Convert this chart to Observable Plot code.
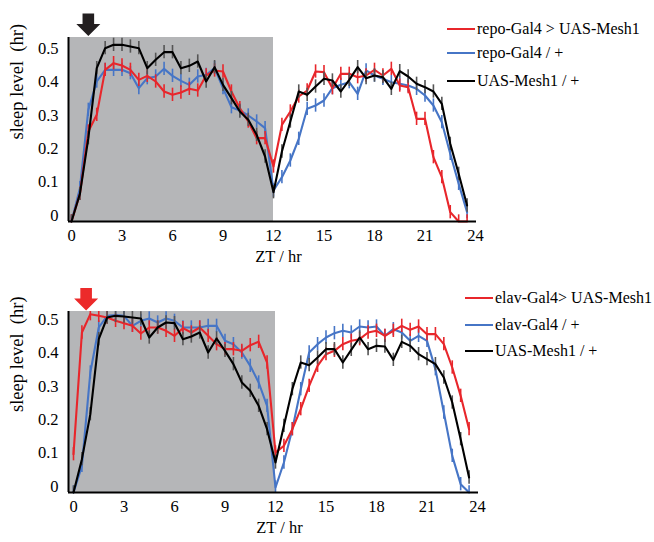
<!DOCTYPE html>
<html><head><meta charset="utf-8">
<script src="https://cdn.jsdelivr.net/npm/d3@7"></script>
<script src="https://cdn.jsdelivr.net/npm/@observablehq/plot@0.6"></script>
<style>
body{margin:0;background:#fff;}
#wrap{position:relative;width:654px;height:542px;font-family:"Liberation Serif","Times New Roman",serif;color:#000;overflow:hidden;}
.panel{position:absolute;left:0;}
.panel text{font-family:"Liberation Serif","Times New Roman",serif !important;}
.item{position:absolute;white-space:nowrap;display:flex;align-items:center;font-size:16px;height:20px;}
.sw{display:inline-block;width:28px;height:2.5px;margin-right:2px;}
</style></head><body><div id="wrap"></div>
<script>
// ZT (hr), 30-min bins
const zt = [0,0.5,1,1.5,2,2.5,3,3.5,4,4.5,5,5.5,6,6.5,7,7.5,8,8.5,9,9.5,10,10.5,11,11.5,
            12,12.5,13,13.5,14,14.5,15,15.5,16,16.5,17,17.5,18,18.5,19,19.5,20,20.5,21,21.5,22,22.5,23,23.5];
const xTicks = [0,3,6,9,12,15,18,21,24];
const yTicks = [0,0.1,0.2,0.3,0.4,0.5];
const darkPhase = [{start:0,end:12}];
const sem = 0.02;

// Top panel: repo-Gal4
const topNames = ["repo-Gal4 > UAS-Mesh1","repo-Gal4 / +","UAS-Mesh1 / +"];
const topRed = [0,0.083,0.27,0.32,0.455,0.475,0.468,0.455,0.425,0.437,0.42,0.39,0.38,0.387,0.398,0.393,0.438,0.453,0.45,0.39,0.34,0.30,0.25,0.25,
  0.165,0.29,0.33,0.375,0.393,0.45,0.448,0.40,0.443,0.443,0.433,0.438,0.455,0.438,0.458,0.408,0.403,0.308,0.308,0.193,0.133,0.028,0,0];
const topBlue = [0,0.10,0.335,0.42,0.455,0.455,0.455,0.445,0.40,0.43,0.435,0.458,0.437,0.422,0.41,0.435,0.44,0.46,0.40,0.343,0.333,0.318,0.30,0.28,
  0.093,0.133,0.183,0.248,0.338,0.348,0.363,0.40,0.41,0.418,0.383,0.453,0.438,0.428,0.418,0.413,0.408,0.398,0.378,0.348,0.298,0.203,0.113,0.028];
const topBlack = [0,0.083,0.25,0.46,0.52,0.53,0.53,0.525,0.52,0.46,0.485,0.508,0.508,0.46,0.467,0.48,0.42,0.463,0.41,0.37,0.33,0.305,0.26,0.195,
  0.088,0.21,0.30,0.39,0.38,0.405,0.428,0.423,0.39,0.425,0.463,0.43,0.438,0.433,0.398,0.451,0.435,0.413,0.403,0.39,0.353,0.233,0.143,0.048];

// Bottom panel: elav-Gal4
const botNames = ["elav-Gal4> UAS-Mesh1","elav-Gal4 / +","UAS-Mesh1 / +"];
const botRed = [0.115,0.48,0.535,0.53,0.525,0.515,0.508,0.50,0.477,0.495,0.495,0.485,0.47,0.493,0.48,0.495,0.47,0.445,0.43,0.43,0.425,0.442,0.452,0.39,
  0.12,0.14,0.19,0.25,0.32,0.38,0.415,0.425,0.445,0.455,0.46,0.48,0.485,0.47,0.485,0.50,0.488,0.498,0.475,0.475,0.445,0.375,0.29,0.19];
const botBlue = [0,0.08,0.36,0.495,0.53,0.532,0.53,0.50,0.515,0.522,0.51,0.522,0.515,0.495,0.495,0.495,0.50,0.50,0.455,0.445,0.42,0.38,0.33,0.26,
  0.015,0.09,0.19,0.31,0.42,0.445,0.465,0.478,0.485,0.48,0.498,0.495,0.498,0.47,0.49,0.48,0.455,0.47,0.455,0.37,0.24,0.11,0.025,0];
const botBlack = [0,0.10,0.235,0.46,0.525,0.53,0.528,0.525,0.522,0.465,0.495,0.51,0.508,0.46,0.468,0.48,0.42,0.462,0.425,0.385,0.33,0.305,0.26,0.19,
  0.09,0.20,0.31,0.39,0.382,0.405,0.43,0.43,0.39,0.428,0.465,0.43,0.44,0.438,0.398,0.452,0.44,0.415,0.40,0.385,0.345,0.27,0.16,0.045];

const lineColors = ["#e8262b","#4675c6","#000000"];
const barColors = ["#e8262b","#4675c6","#555555"];
const serif = '"Liberation Serif","Times New Roman",serif';

const arrowSymbol = {
  draw(ctx) {
    ctx.moveTo(-5.8,-11); ctx.lineTo(5.8,-11); ctx.lineTo(5.8,-0.5);
    ctx.lineTo(12,-0.5); ctx.lineTo(0,11.5); ctx.lineTo(-12,-0.5);
    ctx.lineTo(-5.8,-0.5); ctx.closePath();
  }
};

function makePanel(o) {
  const vals = o.values;
  const drawOrder = [1,0,2];
  const marks = [
    Plot.rect(darkPhase, {x1:"start", x2:"end", fill:"#b5b6b8", insetLeft: -(o.xRange[0]-68)})
  ];
  for (const k of drawOrder) {
    const rows = zt.map((t,i)=>({zt:t, v:vals[k][i]}));
    marks.push(Plot.ruleX(rows, {x:"zt", y1:d=>d.v-sem, y2:d=>d.v+sem, stroke:barColors[k], strokeWidth:1.6, clip:true}));
    marks.push(Plot.line(rows, {x:"zt", y:"v", stroke:lineColors[k], strokeWidth:2.1}));
  }
  marks.push(
    Plot.ruleY([0], {strokeWidth:2}),
    Plot.ruleX([0], {dx: 68-o.xRange[0], strokeWidth:2}),
    Plot.axisY({ticks:yTicks, tickSize:0, tickPadding:10, dy:-6, label:null, fontSize:16.5, fontFamily:serif,
      tickFormat:d=> d===0 ? "0" : d.toFixed(1)}),
    Plot.axisX({ticks:xTicks, tickSize:0, tickPadding:8, label:null, fontSize:16.5, fontFamily:serif, tickFormat:d=>String(d)}),
    Plot.text(["ZT / hr"], {text:d=>d, frameAnchor:"bottom", dy:40, dx:6, fontSize:16.5, fontFamily:serif}),
    Plot.text(["sleep level\u00a0 (hr)"], {text:d=>d, frameAnchor:"left", rotate:-90, dx:-51, dy:o.ylabDy, fontSize:18.5, fontFamily:serif}),
    Plot.dot([{zt:o.arrowZT}], {x:"zt", frameAnchor:"top", dy:o.arrowDy, symbol:arrowSymbol, fill:o.arrowColor, stroke:"none", r:8})
  );
  const p = Plot.plot({
    width:654, height:o.height, marginTop:o.marginTop, marginBottom:o.marginBottom,
    marginLeft:68, marginRight:o.marginRight,
    x:{domain:[0,24], range:o.xRange},
    y:{domain:[0,o.yTop]},
    style:{fontFamily:serif, fontSize:"16px", background:"transparent", overflow:"visible", color:"#000"},
    marks
  });
  p.classList.add("panel");
  p.style.top = o.top + "px";
  return p;
}

function makeLegend(names, left, ys) {
  const frag = document.createDocumentFragment();
  names.forEach((n,i)=>{
    const d = document.createElement("div");
    d.className = "item";
    d.style.left = left + "px";
    d.style.top = (ys[i]-10) + "px";
    const s = document.createElement("span");
    s.className = "sw"; s.style.background = lineColors[i];
    d.appendChild(s);
    d.appendChild(document.createTextNode(n));
    frag.appendChild(d);
  });
  return frag;
}

const wrap = document.getElementById("wrap");
wrap.appendChild(makePanel({
  values:[topRed, topBlue, topBlack], top:0, height:270, marginTop:37, marginBottom:49, marginRight:178,
  xRange:[71,475], yTop:0.552, ylabDy:10, arrowZT:1.0, arrowDy:-13, arrowColor:"#231f20"
}));
wrap.appendChild(makePanel({
  values:[botRed, botBlue, botBlack], top:271, height:271, marginTop:40, marginBottom:50, marginRight:176,
  xRange:[73,477], yTop:0.543, ylabDy:10, arrowZT:0.75, arrowDy:-12.5, arrowColor:"#ec2a2a"
}));
wrap.appendChild(makeLegend(topNames, 447, [29,53,81]));
wrap.appendChild(makeLegend(botNames, 465, [298,325,351]));
</script>
</body></html>
